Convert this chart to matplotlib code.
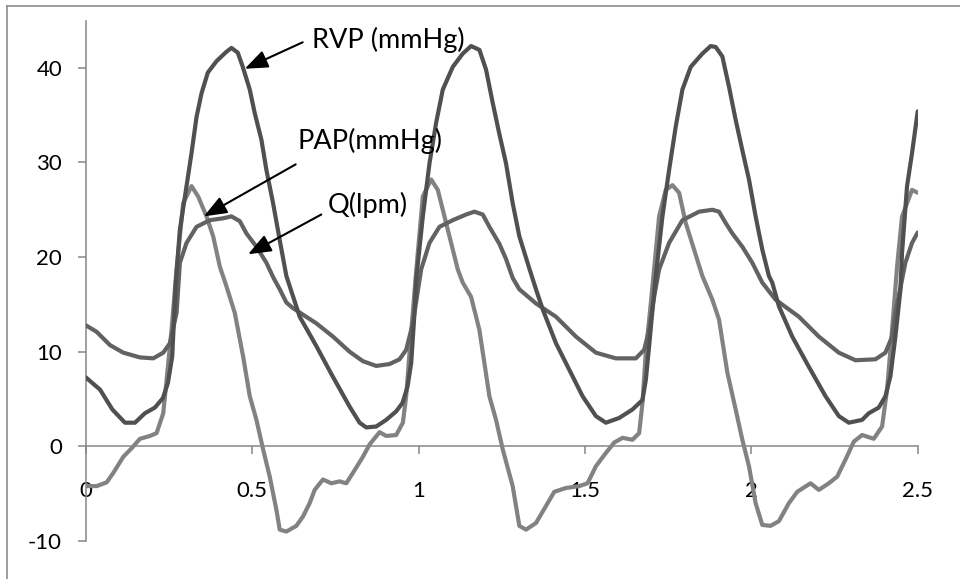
import matplotlib
matplotlib.use("Agg")
import matplotlib.pyplot as plt
from matplotlib.lines import Line2D

plt.rcParams['font.family'] = ['Lato', 'DejaVu Sans']

# ---- data ----
rvp_t = [0.000, 0.043, 0.080, 0.118, 0.148, 0.178, 0.208, 0.232, 0.247, 0.260, 0.262, 0.270,
         0.283, 0.303, 0.318, 0.333, 0.348, 0.367, 0.393, 0.423, 0.438, 0.457, 0.472, 0.493,
         0.508, 0.528, 0.543, 0.563, 0.583, 0.603, 0.643, 0.693, 0.742, 0.793, 0.823, 0.843,
         0.873, 0.903, 0.933, 0.952, 0.967, 0.978, 0.988, 0.993, 1.013, 1.033, 1.053, 1.073,
         1.103, 1.133, 1.158, 1.183, 1.203, 1.223, 1.243, 1.263, 1.283, 1.303, 1.333, 1.353,
         1.373, 1.413, 1.453, 1.493, 1.533, 1.563, 1.603, 1.643, 1.673, 1.683, 1.693, 1.703,
         1.713, 1.733, 1.753, 1.773, 1.793, 1.818, 1.853, 1.878, 1.893, 1.913, 1.933, 1.953,
         1.973, 1.993, 2.013, 2.033, 2.053, 2.063, 2.083, 2.123, 2.173, 2.223, 2.263, 2.293,
         2.333, 2.353, 2.383, 2.403, 2.418, 2.433, 2.448, 2.453, 2.468, 2.483, 2.500]
rvp = [7.3, 6.0, 3.9, 2.5, 2.5, 3.5, 4.1, 5.1, 6.7, 9.5, 11.0, 17.0,
       22.9, 27.5, 31.0, 34.8, 37.3, 39.5, 40.7, 41.7, 42.1, 41.6, 40.1, 37.7,
       35.2, 32.4, 29.2, 25.7, 21.8, 18.0, 13.7, 10.6, 7.4, 4.2, 2.5, 2.0,
       2.1, 2.8, 3.7, 4.6, 6.3, 8.8, 14.1, 17.6, 24.3, 29.9, 34.2, 37.7,
       40.1, 41.5, 42.3, 41.9, 39.8, 36.3, 33.0, 29.9, 25.7, 22.2, 18.8, 16.6,
       14.5, 10.9, 8.1, 5.3, 3.2, 2.5, 3.0, 3.9, 4.9, 7.0, 10.6, 14.4,
       18.0, 24.3, 29.2, 33.8, 37.7, 40.1, 41.5, 42.3, 42.2, 41.2, 38.0, 34.5,
       31.3, 28.2, 24.3, 20.8, 18.0, 17.3, 14.8, 11.6, 8.4, 5.3, 3.2, 2.5,
       2.8, 3.5, 4.1, 5.3, 7.4, 11.6, 16.5, 20.5, 27.5, 31.0, 35.4]

pap_t = [0.000, 0.033, 0.073, 0.113, 0.163, 0.203, 0.233, 0.253, 0.273, 0.283, 0.303, 0.333,
         0.373, 0.413, 0.438, 0.463, 0.483, 0.513, 0.543, 0.563, 0.583, 0.603, 0.623, 0.693,
         0.743, 0.793, 0.833, 0.873, 0.913, 0.943, 0.963, 0.983, 1.008, 1.033, 1.063, 1.103,
         1.143, 1.168, 1.193, 1.213, 1.243, 1.263, 1.283, 1.303, 1.353, 1.413, 1.473, 1.533,
         1.593, 1.653, 1.678, 1.693, 1.708, 1.723, 1.753, 1.793, 1.843, 1.883, 1.903, 1.923,
         1.943, 1.973, 2.003, 2.033, 2.073, 2.143, 2.203, 2.263, 2.313, 2.373, 2.403, 2.423,
         2.433, 2.463, 2.483, 2.500]
pap = [12.8, 12.1, 10.7, 9.9, 9.4, 9.3, 9.9, 10.9, 14.1, 19.4, 21.5, 23.2,
       23.9, 24.1, 24.3, 23.8, 22.5, 21.1, 19.4, 17.9, 16.6, 15.2, 14.6, 13.0,
       11.6, 10.0, 9.0, 8.5, 8.7, 9.2, 10.2, 13.0, 18.7, 21.5, 23.2, 23.9,
       24.5, 24.8, 24.5, 23.2, 21.4, 19.8, 17.8, 16.6, 15.1, 13.7, 11.6, 9.9,
       9.3, 9.3, 10.2, 12.3, 15.8, 18.7, 21.5, 23.9, 24.8, 25.0, 24.8, 23.6,
       22.5, 21.1, 19.4, 17.3, 15.5, 13.7, 11.6, 9.9, 9.1, 9.2, 9.9, 11.6,
       14.1, 19.4, 21.5, 22.6]

q_t = [0.000, 0.033, 0.063, 0.083, 0.113, 0.138, 0.163, 0.193, 0.213, 0.233, 0.243, 0.258,
       0.273, 0.293, 0.318, 0.338, 0.363, 0.383, 0.403, 0.423, 0.448, 0.473, 0.493, 0.513,
       0.533, 0.553, 0.573, 0.583, 0.603, 0.633, 0.653, 0.673, 0.688, 0.713, 0.738, 0.763,
       0.783, 0.803, 0.833, 0.853, 0.883, 0.903, 0.933, 0.953, 0.963, 0.973, 0.993, 1.013,
       1.038, 1.058, 1.078, 1.098, 1.118, 1.133, 1.158, 1.183, 1.213, 1.233, 1.253, 1.283,
       1.303, 1.323, 1.353, 1.383, 1.408, 1.443, 1.483, 1.508, 1.533, 1.563, 1.588, 1.613,
       1.643, 1.663, 1.673, 1.683, 1.698, 1.723, 1.743, 1.763, 1.783, 1.803, 1.828, 1.853,
       1.883, 1.903, 1.928, 1.953, 1.973, 1.993, 2.013, 2.033, 2.058, 2.083, 2.113, 2.138,
       2.178, 2.203, 2.233, 2.258, 2.283, 2.308, 2.333, 2.368, 2.393, 2.408, 2.423, 2.438,
       2.453, 2.483, 2.500]
q = [-4.2, -4.2, -3.8, -2.8, -1.1, -0.2, 0.8, 1.1, 1.4, 3.5, 7.0, 12.3,
     18.7, 25.7, 27.5, 26.4, 24.3, 22.2, 19.0, 16.9, 14.1, 9.5, 5.3, 2.8,
     -0.3, -3.2, -6.7, -8.8, -9.0, -8.4, -7.4, -6.0, -4.6, -3.5, -3.9, -3.7,
     -3.9, -2.8, -1.1, 0.2, 1.5, 1.1, 1.2, 2.5, 5.3, 9.9, 18.5, 26.4,
     28.2, 27.1, 24.3, 21.5, 18.7, 17.3, 15.8, 12.3, 5.3, 2.8, -0.3, -4.2,
     -8.4, -8.8, -8.1, -6.3, -4.8, -4.4, -4.2, -3.9, -2.1, -0.7, 0.4, 0.9,
     0.7, 1.4, 4.6, 9.9, 15.1, 24.3, 27.1, 27.6, 26.8, 23.6, 20.8, 18.0,
     15.5, 13.4, 7.8, 3.9, 0.7, -2.1, -6.0, -8.3, -8.4, -7.9, -6.0, -4.8,
     -3.9, -4.6, -3.9, -3.2, -1.4, 0.5, 1.2, 0.8, 2.1, 6.0, 12.3, 19.0,
     24.3, 27.1, 26.8]

x_ticks = [0, 0.5, 1, 1.5, 2, 2.5]
x_tick_labels = ['0', '0.5', '1', '1.5', '2', '2.5']
y_ticks = [-10, 0, 10, 20, 30, 40]
y_tick_labels = ['-10', '0', '10', '20', '30', '40']

labels = ['RVP (mmHg)', 'PAP(mmHg)', 'Q(lpm)']

# ---- figure ----
W, H = 960, 579
fig = plt.figure(figsize=(W / 100, H / 100), dpi=100)
fig.patch.set_facecolor('white')

ax = fig.add_axes([85.7 / W, (H - 541) / H, (917.7 - 85.7) / W, (541 - 20.5) / H])
ax.set_xlim(0, 2.5)
ax.set_ylim(-10, 45)

lw = 3.0
line_kw = dict(lw=lw, solid_joinstyle='round', solid_capstyle='round')
ax.plot(q_t, q, color='#828282', zorder=2, **line_kw)
ax.plot(pap_t, pap, color='#626262', zorder=3, **line_kw)
ax.plot(rvp_t, rvp, color='#505050', zorder=4, **line_kw)

axis_col = '#868686'
for s in ['top', 'right']:
    ax.spines[s].set_visible(False)
ax.spines['bottom'].set_position(('data', 0))
for s in ['left', 'bottom']:
    ax.spines[s].set_color(axis_col)
    ax.spines[s].set_linewidth(1.1)

ax.set_xticks(x_ticks)
ax.set_xticklabels(x_tick_labels)
ax.set_yticks(y_ticks)
ax.set_yticklabels(y_tick_labels)
ax.tick_params(axis='x', direction='out', length=6, width=1.1, color=axis_col,
               labelsize=16, pad=19, labelcolor='black')
ax.tick_params(axis='y', direction='out', length=6, width=1.1, color=axis_col,
               labelsize=16, pad=11, labelcolor='black')

# annotations
arrow_kw = dict(arrowstyle='-|>,head_length=1.4,head_width=0.55', color='black',
                lw=1.5, shrinkA=0, shrinkB=0, mutation_scale=10)
ax.annotate('', xy=(0.478, 39.9), xytext=(0.652, 42.7), arrowprops=arrow_kw, zorder=6)
ax.annotate('', xy=(0.355, 24.3), xytext=(0.631, 29.8), arrowprops=arrow_kw, zorder=6)
ax.annotate('', xy=(0.488, 20.3), xytext=(0.708, 24.5), arrowprops=arrow_kw, zorder=6)
ax.text(0.679, 42.9, labels[0], fontsize=19.5, ha='left', va='center', zorder=7)
ax.text(0.636, 32.3, labels[1], fontsize=19.5, ha='left', va='center', zorder=7)
ax.text(0.728, 25.5, labels[2], fontsize=19.5, ha='left', va='center', zorder=7)

# outer chart border (top and left visible)
bc = '#8c8c8c'
fig.add_artist(Line2D([7 / W, 1], [1 - 5.7 / H, 1 - 5.7 / H], transform=fig.transFigure,
                      color=bc, lw=1.2))
fig.add_artist(Line2D([7 / W, 7 / W], [0, 1 - 5.7 / H], transform=fig.transFigure,
                      color=bc, lw=1.2))

fig.savefig('out.png', dpi=100)
